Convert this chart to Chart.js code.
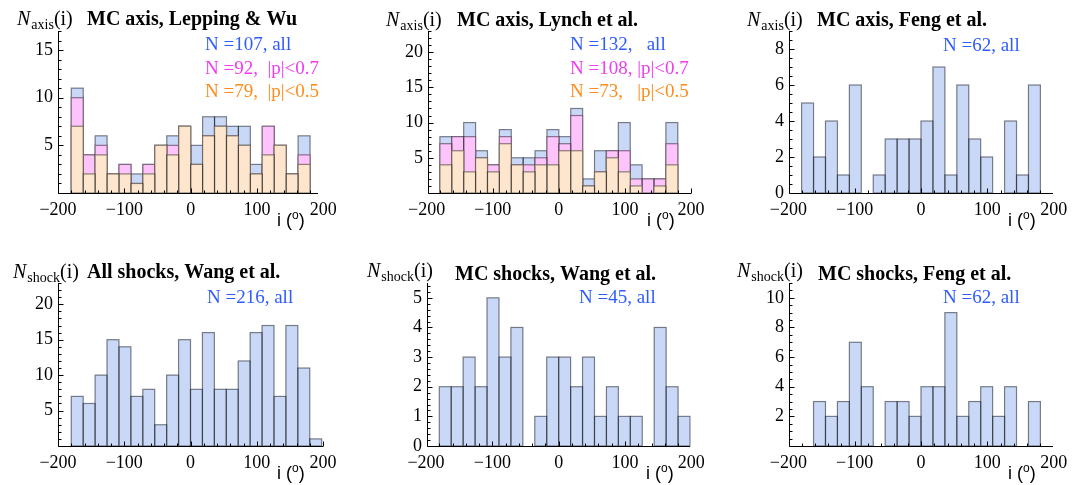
<!DOCTYPE html>
<html>
<head>
<meta charset="utf-8">
<script src="https://cdn.jsdelivr.net/npm/chart.js@4.4.1/dist/chart.umd.min.js"></script>
<style>
  body { margin: 0; background: #fff; width: 1081px; height: 485px; overflow: hidden; position: relative; }
  canvas { position: absolute; }
</style>
</head>
<body>
<canvas id="c1" width="360" height="240" style="left:0;top:0"></canvas>
<canvas id="c2" width="360" height="240" style="left:360px;top:0"></canvas>
<canvas id="c3" width="361" height="240" style="left:720px;top:0"></canvas>
<canvas id="c4" width="360" height="240" style="left:0;top:245px"></canvas>
<canvas id="c5" width="360" height="240" style="left:360px;top:245px"></canvas>
<canvas id="c6" width="361" height="240" style="left:720px;top:245px"></canvas>
<script>
// left edges of the 18 degree bins
const binStarts = [-180, -162, -144, -126, -108, -90, -72, -54, -36, -18, 0, 18, 36, 54, 72, 90, 108, 126, 144, 162, 180];
const xTickValues = [-200, -100, 0, 100, 200];

// MC axis, Lepping & Wu
const leppingAll = [11, 4, 6, 2, 3, 2, 3, 5, 6, 7, 5, 8, 8, 7, 7, 3, 7, 5, 2, 6];
const leppingP07 = [10, 4, 5, 2, 3, 1, 3, 5, 5, 7, 3, 6, 7, 6, 5, 2, 7, 5, 2, 4];
const leppingP05 = [7, 2, 4, 2, 2, 1, 2, 5, 4, 7, 3, 6, 7, 6, 5, 2, 4, 5, 2, 3];

// MC axis, Lynch et al.
const lynchAll = [8, 8, 10, 6, 4, 9, 5, 5, 6, 9, 8, 12, 2, 6, 6, 10, 4, 2, 2, 10];
const lynchP07 = [7, 8, 8, 5, 4, 8, 4, 4, 5, 8, 7, 11, 1, 3, 6, 6, 2, 2, 2, 7];
const lynchP05 = [4, 6, 3, 5, 3, 7, 4, 3, 4, 4, 6, 6, 1, 3, 5, 3, 1, 0, 1, 4];

// MC axis, Feng et al.
const fengAxis = [5, 2, 4, 1, 6, 0, 1, 3, 3, 3, 4, 7, 1, 6, 3, 2, 0, 4, 1, 6];

// shocks
const wangAll = [7, 6, 10, 15, 14, 7, 8, 3, 10, 15, 8, 16, 8, 8, 12, 16, 17, 7, 17, 11, 1];
const wangMC = [2, 2, 3, 2, 5, 3, 4, 0, 1, 3, 3, 2, 3, 1, 2, 1, 1, 0, 4, 2, 1];
const fengShock = [0, 3, 2, 3, 7, 4, 0, 3, 3, 2, 4, 4, 9, 2, 3, 4, 2, 4, 0, 3];

const serif = '"Liberation Serif", "DejaVu Serif", serif';
const BLUE = '#c9d8f6', PINK = '#fdc3fb', ORANGE = '#fde6cd';
const BLUE_TXT = '#2f5cff', PINK_TXT = '#f03cf0', ORANGE_TXT = '#ff8c1a';

const fmt = v => v < 0 ? '\u2212' + Math.abs(v) : String(v);

function series(values, fill, order) {
  return {
    data: values.map((v, k) => ({ x: binStarts[k] + 9, y: v === 0 ? null : v })),
    backgroundColor: fill,
    borderWidth: 0,
    grouped: false,
    barPercentage: 1,
    categoryPercentage: 1,
    order: order
  };
}

// bar edges, drawn right after each dataset
const outline = {
  id: 'outline',
  afterDatasetDraw(chart, args) {
    const ctx = chart.ctx;
    ctx.save();
    ctx.strokeStyle = 'rgba(0,0,0,0.45)';
    ctx.lineWidth = 1.2;
    args.meta.data.forEach(bar => {
      const p = bar.getProps(['x', 'y', 'base', 'width'], true);
      if (!isFinite(p.y) || Math.abs(p.base - p.y) < 0.5) return;
      ctx.strokeRect(p.x - p.width / 2, p.y, p.width, p.base - p.y);
    });
    ctx.restore();
  }
};

// axes with inward ticks, labels and notes
const decor = {
  id: 'decor',
  afterDraw(chart, args, o) {
    const { ctx, chartArea: a, scales: { x, y } } = chart;
    const X0 = Math.round(a.left) + 0.5, Y0 = Math.round(a.bottom) + 0.5;
    ctx.save();
    ctx.strokeStyle = '#000';
    ctx.lineWidth = 1;
    ctx.beginPath();
    ctx.moveTo(X0, a.top);
    ctx.lineTo(X0, Y0);
    ctx.lineTo(a.right, Y0);
    ctx.stroke();

    ctx.beginPath();
    for (let v = 0; v <= y.max + 1e-6; v += o.yMinor) {
      const major = Math.abs(v / o.yStep - Math.round(v / o.yStep)) < 1e-6;
      const py = Math.round(y.getPixelForValue(v)) + 0.5;
      ctx.moveTo(X0, py);
      ctx.lineTo(X0 + (major ? 5 : 3), py);
    }
    for (let v = -200; v <= 200; v += 20) {
      if (v < x.min || v > x.max) continue;
      const major = v % 100 === 0;
      const px = Math.round(x.getPixelForValue(v)) + 0.5;
      ctx.moveTo(px, Y0);
      ctx.lineTo(px, Y0 - (major ? 5 : 3));
    }
    ctx.stroke();

    const lx = px => px - o.ox, ly = py => py - o.oy;
    ctx.textBaseline = 'alphabetic';
    ctx.textAlign = 'left';
    ctx.fillStyle = '#000';

    // N_sub(i)
    let cx = lx(o.ylab[1]);
    const by = ly(o.ylab[2]);
    ctx.font = 'italic 20px ' + serif;
    ctx.fillText('N', cx, by);
    cx += ctx.measureText('N').width + 1;
    ctx.font = '14px ' + serif;
    ctx.fillText(o.ylab[0], cx, by + 4);
    cx += ctx.measureText(o.ylab[0]).width;
    ctx.font = '20px ' + serif;
    ctx.fillText('(i)', cx, by);

    ctx.font = 'bold 20px ' + serif;
    ctx.fillText(o.title[0], lx(o.title[1]), ly(o.title[2]));

    ctx.font = '19px ' + serif;
    o.notes.forEach(n => {
      ctx.fillStyle = n[1];
      ctx.fillText(n[0], lx(n[2]), ly(n[3]));
    });

    // i (o) axis label
    ctx.fillStyle = '#000';
    let ix = a.left + 219;
    const iy = a.bottom + 33;
    ctx.font = '18px "Liberation Sans", Arial, sans-serif';
    ctx.fillText('i (', ix, iy);
    ix += ctx.measureText('i (').width;
    ctx.font = '12px "Liberation Sans", Arial, sans-serif';
    ctx.fillText('o', ix, iy - 7);
    ix += ctx.measureText('o').width;
    ctx.font = '18px "Liberation Sans", Arial, sans-serif';
    ctx.fillText(')', ix, iy);
    ctx.restore();
  }
};

const panels = [
  { id: 'c1', ox: 0, oy: 0, w: 360, area: [58, 318, 31, 193], xMin: -200, xMax: 192, yMax: 17, yStep: 5, yMinor: 1, zero: false,
    sets: [series(leppingAll, BLUE, 3), series(leppingP07, PINK, 2), series(leppingP05, ORANGE, 1)],
    ylab: ['axis', 17, 25], title: ['MC axis, Lepping & Wu', 87, 25],
    notes: [['N =107, all', BLUE_TXT, 205, 50], ['N =92,  |p|<0.7', PINK_TXT, 205, 74], ['N =79,  |p|<0.5', ORANGE_TXT, 205, 97]] },
  { id: 'c2', ox: 360, oy: 0, w: 360, area: [428, 691, 31, 193], xMin: -198, xMax: 200, yMax: 23, yStep: 5, yMinor: 1, zero: false,
    sets: [series(lynchAll, BLUE, 3), series(lynchP07, PINK, 2), series(lynchP05, ORANGE, 1)],
    ylab: ['axis', 386, 26], title: ['MC axis, Lynch et al.', 457, 26],
    notes: [['N =132,   all', BLUE_TXT, 570, 50], ['N =108, |p|<0.7', PINK_TXT, 570, 74], ['N =73,   |p|<0.5', ORANGE_TXT, 570, 97]] },
  { id: 'c3', ox: 720, oy: 0, w: 361, area: [789, 1053, 31, 193], xMin: -199, xMax: 199, yMax: 9, yStep: 2, yMinor: 0.5, zero: true,
    sets: [series(fengAxis, BLUE, 1)],
    ylab: ['axis', 747, 26], title: ['MC axis, Feng et al.', 817, 26],
    notes: [['N =62, all', BLUE_TXT, 943, 51]] },
  { id: 'c4', ox: 0, oy: 245, w: 360, area: [58, 323, 283, 446], xMin: -200, xMax: 200, yMax: 23, yStep: 5, yMinor: 1, zero: false,
    sets: [series(wangAll, BLUE, 1)],
    ylab: ['shock', 13, 278], title: ['All shocks, Wang et al.', 87, 278],
    notes: [['N =216, all', BLUE_TXT, 207, 303]] },
  { id: 'c5', ox: 360, oy: 245, w: 360, area: [427, 690, 283, 446], xMin: -198.5, xMax: 198, yMax: 5.5, yStep: 1, yMinor: 0.2, zero: true,
    sets: [series(wangMC, BLUE, 1)],
    ylab: ['shock', 367, 277], title: ['MC shocks, Wang et al.', 455, 280],
    notes: [['N =45, all', BLUE_TXT, 579, 303]] },
  { id: 'c6', ox: 720, oy: 245, w: 361, area: [789, 1053, 283, 446], xMin: -199, xMax: 199, yMax: 11, yStep: 2, yMinor: 0.5, zero: false,
    sets: [series(fengShock, BLUE, 1)],
    ylab: ['shock', 737, 277], title: ['MC shocks, Feng et al.', 818, 280],
    notes: [['N =62, all', BLUE_TXT, 943, 303]] }
];

const H = 240, XH = 40;
panels.forEach(p => {
  const [l, r, t, b] = p.area;
  const tickFont = { family: serif, size: 18 };
  new Chart(document.getElementById(p.id), {
    type: 'bar',
    data: { datasets: p.sets },
    options: {
      responsive: false,
      animation: false,
      devicePixelRatio: 1,
      layout: { padding: { left: 0, top: t - p.oy, right: p.w - (r - p.ox), bottom: H - XH - (b - p.oy) } },
      plugins: {
        legend: { display: false },
        tooltip: { enabled: false },
        decor: { ox: p.ox, oy: p.oy, yStep: p.yStep, yMinor: p.yMinor, ylab: p.ylab, title: p.title, notes: p.notes }
      },
      scales: {
        x: {
          type: 'linear', min: p.xMin, max: p.xMax, offset: false,
          grid: { display: false, drawTicks: false, offset: false },
          border: { display: false },
          afterBuildTicks: s => { s.ticks = xTickValues.map(v => ({ value: v })); },
          afterFit: s => { s.height = XH; },
          ticks: { autoSkip: false, maxRotation: 0, padding: 6, font: tickFont, color: '#000', callback: v => fmt(v) }
        },
        y: {
          min: 0, max: p.yMax,
          grid: { display: false, drawTicks: false },
          border: { display: false },
          afterFit: s => { s.width = l - p.ox; },
          ticks: { stepSize: p.yStep, includeBounds: false, padding: 5, font: tickFont, color: '#000',
                   callback: v => (v === 0 && !p.zero) ? '' : fmt(v) }
        }
      }
    },
    plugins: [outline, decor]
  });
});
</script>
</body>
</html>
